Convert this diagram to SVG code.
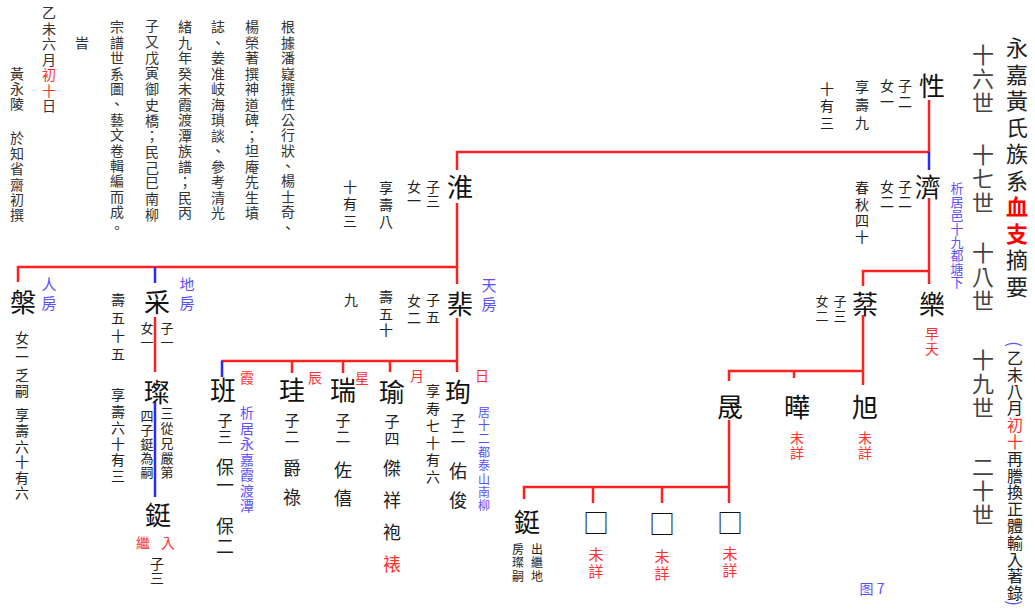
<svg xmlns="http://www.w3.org/2000/svg" width="1035" height="611" viewBox="0 0 1035 611">
<style>
text { font-family: "Noto Sans CJK TC", "Noto Sans CJK SC", sans-serif; }
.n { font-size: 26px; fill: #111; text-anchor: middle; dominant-baseline: central; }
.h { text-anchor: middle; dominant-baseline: central; }
.v { writing-mode: vertical-rl; }
.a { font-size: 14px; fill: #222; }
.g { font-size: 22px; fill: #444; }
.t { font-size: 22px; fill: #222; }
.b { fill: #5a50ff; }
.r { fill: #ff3030; }
.p { font-size: 17px; fill: #5a50ff; }
.note { font-size: 14px; fill: #333; }
.ln { fill: none; stroke: #ff2020; stroke-width: 2.5; }
.bl { fill: none; stroke: #2a2aff; stroke-width: 2.5; }
</style>
<rect width="1035" height="611" fill="#fff"/>

<g id="title">
<text class="v t" x="1017" y="37" style="letter-spacing:4.5px">永嘉黃氏族系<tspan fill="#ff0000" font-weight="bold">血支</tspan>摘要</text>
<text class="p h" transform="translate(1015,344) rotate(90)">(</text>
<text class="v a" x="1015" y="350" style="font-size:16px;letter-spacing:0.8px">乙未八月<tspan class="r">初十</tspan>再謄換正體輸入著錄</text>
<text class="p h" transform="translate(1015,603) rotate(90)">)</text>
</g>
<g id="generations">
<text class="v g" x="983" y="44" style="letter-spacing:2px">十六世</text>
<text class="v g" x="983" y="144" style="letter-spacing:2px">十七世</text>
<text class="v g" x="983" y="242" style="letter-spacing:2px">十八世</text>
<text class="v g" x="983" y="349" style="letter-spacing:2px">十九世</text>
<text class="v g" x="983" y="456" style="letter-spacing:2px">二十世</text>
</g>

<g id="notes">
<text class="v note" x="288" y="20" style="letter-spacing:1.4px">根據潘嶷撰性公行狀、楊士奇、</text>
<text class="v note" x="252" y="20" style="letter-spacing:1.5px">楊榮著撰神道碑；坦庵先生墳</text>
<text class="v note" x="218" y="20" style="letter-spacing:1.5px">誌、姜准岐海瑣談、參考清光</text>
<text class="v note" x="185" y="20" style="letter-spacing:1.5px">緒九年癸未霞渡潭族譜；民丙</text>
<text class="v note" x="152" y="19" style="letter-spacing:1.7px">子又戊寅御史橋；民己巳南柳</text>
<text class="v note" x="117" y="20" style="letter-spacing:1.4px">宗譜世系圖、藝文卷輯編而成。</text>
<text class="v note" x="82" y="36">旹</text>
<text class="v note" x="49" y="6" style="letter-spacing:1.5px">乙未六月<tspan class="r">初十</tspan>日</text>
<text class="v note" x="17" y="67" style="letter-spacing:1px">黃永陵</text>
<text class="v note" x="17" y="131" style="letter-spacing:1.4px">於知省齋初撰</text>
</g>

<g id="connectors">
<path class="ln" d="M929,100 V152 H457 V170"/>
<path class="bl" d="M929,152 V170"/>
<path class="ln" d="M929,198 V284 M929,271 H863 V286"/>
<path class="ln" d="M863,315 V385 M863,371 H729 V381 M794,371 V378"/>
<path class="ln" d="M729,420 V503 M729,487 H524 V499 M593,487 V503 M662,487 V503"/>
<path class="ln" d="M457,203 V284 M457,267 H18 V282"/>
<path class="bl" d="M155,267 V283"/>
<path class="ln" d="M457,318 V372 M457,361 H221 M390,361 V372 M343,361 V373 M292,361 V373"/>
<path class="bl" d="M222,361 V377"/>
<path class="ln" d="M155,317 V372"/>
<path class="bl" d="M155,402 V497"/>
</g>

<g id="node-xing">
<text class="n" x="932" y="84">性</text>
<text class="v a" x="905" y="79" style="letter-spacing:2px">子二</text>
<text class="v a" x="887" y="79" style="letter-spacing:2px">女一</text>
<text class="v a" x="862" y="80" style="letter-spacing:4px">享壽九</text>
<text class="v a" x="827" y="82" style="letter-spacing:3px">十有三</text>
</g>
<g id="node-ji">
<text class="n" x="928" y="185">濟</text>
<text class="v a" x="905" y="180" style="letter-spacing:1px">子二</text>
<text class="v a" x="887" y="180" style="letter-spacing:1px">女二</text>
<text class="v a" x="862" y="181" style="letter-spacing:2.3px">春秋四十</text>
<text class="v a b" x="957" y="182" style="font-size:13px;letter-spacing:0.4px">析居邑十九都塘下</text>
</g>
<g id="node-le">
<text class="n" x="932" y="302">樂</text>
<text class="v a r" x="932" y="327" style="letter-spacing:1px">早夭</text>
</g>
<g id="node-fen">
<text class="n" x="865" y="302">棻</text>
<text class="v a" x="840" y="295" style="font-size:13px;letter-spacing:2px">子三</text>
<text class="v a" x="822" y="295" style="font-size:13px;letter-spacing:2px">女二</text>
</g>
<g id="node-sheng">
<text class="n" x="730" y="405">晟</text>
</g>
<g id="node-ye">
<text class="n" x="797" y="405">曄</text>
<text class="v a r" x="797" y="431" style="letter-spacing:1px">未詳</text>
</g>
<g id="node-xu">
<text class="n" x="865" y="405">旭</text>
<text class="v a r" x="865" y="431" style="letter-spacing:1px">未詳</text>
</g>
<g id="node-ting2">
<text class="n" x="527" y="520">鋌</text>
<text class="v a" x="537" y="543" style="font-size:12px;letter-spacing:1.5px">出繼地</text>
<text class="v a" x="518" y="543" style="font-size:12px;letter-spacing:1.5px">房璨嗣</text>
</g>
<g id="node-u1">
<text class="n" x="596" y="521">□</text>
<text class="v a r" x="596" y="547" style="font-size:15px;letter-spacing:2px">未詳</text>
</g>
<g id="node-u2">
<text class="n" x="662" y="522">□</text>
<text class="v a r" x="662" y="549" style="font-size:15px;letter-spacing:2px">未詳</text>
</g>
<g id="node-u3">
<text class="n" x="730" y="521">□</text>
<text class="v a r" x="730" y="546" style="font-size:15px;letter-spacing:2px">未詳</text>
</g>

<g id="node-huai">
<text class="n" x="460" y="185">淮</text>
<text class="v a" x="433" y="180" style="letter-spacing:0px">子三</text>
<text class="v a" x="414" y="180" style="letter-spacing:0px">女一</text>
<text class="v a" x="386" y="181" style="letter-spacing:3px">享壽八</text>
<text class="v a" x="350" y="180" style="letter-spacing:3px">十有三</text>
</g>
<g id="node-fei">
<text class="n" x="460" y="302">棐</text>
<text class="v a b" x="489" y="278" style="font-size:15px;letter-spacing:4px">天房</text>
<text class="v a" x="433" y="293" style="letter-spacing:3px">子五</text>
<text class="v a" x="414" y="294" style="letter-spacing:3px">女二</text>
<text class="v a" x="386" y="290" style="letter-spacing:2.5px">壽五十</text>
<text class="v a" x="351" y="293">九</text>
</g>
<g id="node-pan">
<text class="n" x="23" y="300">槃</text>
<text class="v a b" x="49" y="277" style="font-size:15px;letter-spacing:4px">人房</text>
<text class="v a" x="22" y="331">女二</text>
<text class="v a" x="22" y="368" style="letter-spacing:2px">乏嗣</text>
<text class="v a" x="22" y="408" style="letter-spacing:1.6px">享壽六十有六</text>
</g>
<g id="node-cai">
<text class="n" x="157" y="300">采</text>
<text class="v a b" x="187" y="277" style="font-size:15px;letter-spacing:4px">地房</text>
<text class="v a" x="167" y="322" style="font-size:13px;letter-spacing:1px">子一</text>
<text class="v a" x="147" y="322" style="font-size:13px;letter-spacing:1px">女一</text>
<text class="v a" x="118" y="293" style="letter-spacing:4px">壽五十五</text>
<text class="v a" x="118" y="388" style="letter-spacing:2.2px">享壽六十有三</text>
</g>
<g id="node-can">
<text class="n" x="157" y="390">璨</text>
<text class="v a" x="167" y="407" style="font-size:13px;letter-spacing:1.7px">三從兄嚴第</text>
<text class="v a" x="147" y="410" style="font-size:13px;letter-spacing:1px">四子鋌為嗣</text>
</g>
<g id="node-ting">
<text class="n" x="158" y="513">鋌</text>
<text class="a r h" x="143" y="542">繼</text>
<text class="a r h" x="168" y="542">入</text>
<text class="v a" x="157" y="557" style="letter-spacing:0px">子三</text>
</g>
<g id="node-ban">
<text class="n" x="223" y="388">班</text>
<text class="a r h" x="247" y="377">霞</text>
<text class="v a b" x="247" y="406" style="letter-spacing:1.5px">析居永嘉霞渡潭</text>
<text class="v a" x="225" y="413" style="font-size:15px;letter-spacing:1px">子三</text>
<text class="v a" x="225" y="458" style="font-size:18px;letter-spacing:0px">保一</text>
<text class="v a" x="225" y="517" style="font-size:18px;letter-spacing:2px">保二</text>
</g>
<g id="node-gui">
<text class="n" x="292" y="388">珪</text>
<text class="a r h" x="315" y="377">辰</text>
<text class="v a" x="292" y="413" style="font-size:15px;letter-spacing:1px">子二</text>
<text class="v a" x="292" y="459" style="font-size:18px;letter-spacing:11px">爵祿</text>
</g>
<g id="node-rui">
<text class="n" x="343" y="388">瑞</text>
<text class="a r h" x="362" y="377">星</text>
<text class="v a" x="343" y="413" style="font-size:15px;letter-spacing:1px">子二</text>
<text class="v a" x="343" y="461" style="font-size:18px;letter-spacing:10px">佐僖</text>
</g>
<g id="node-yu">
<text class="n" x="392" y="390">瑜</text>
<text class="a r h" x="417" y="375">月</text>
<text class="v a" x="392" y="414" style="font-size:15px;letter-spacing:2px">子四</text>
<text class="v a" x="392" y="459" style="font-size:18px;letter-spacing:14px">傑祥袍<tspan class="r">裱</tspan></text>
<text class="v a" x="433" y="384" style="letter-spacing:3.2px">享寿七十有六</text>
</g>
<g id="node-xun">
<text class="n" x="458" y="390">珣</text>
<text class="a r h" x="482" y="375">日</text>
<text class="v a b" x="484" y="406" style="font-size:12px;letter-spacing:1.4px">居十二都泰山南柳</text>
<text class="v a" x="458" y="413" style="font-size:15px;letter-spacing:1px">子二</text>
<text class="v a" x="458" y="462" style="font-size:18px;letter-spacing:11px">佑俊</text>
</g>

<text class="a b h" x="872" y="588">图 7</text>
</svg>
